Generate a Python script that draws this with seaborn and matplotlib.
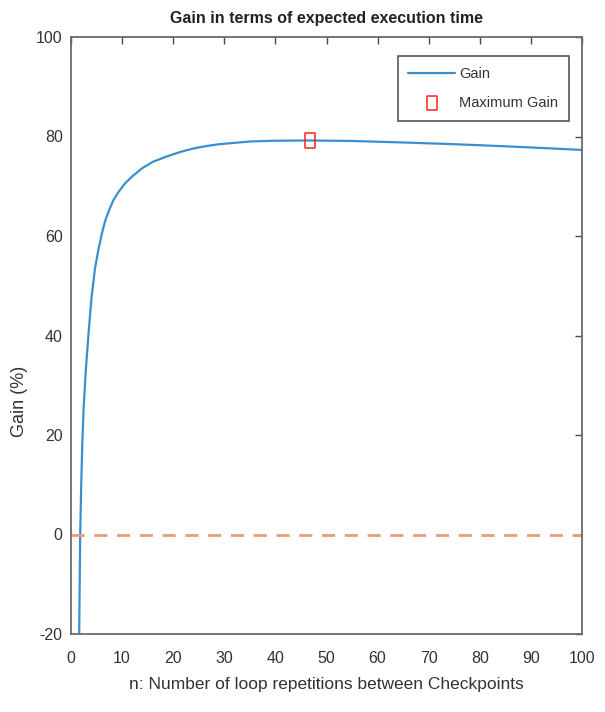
import matplotlib
matplotlib.use("Agg")
import matplotlib.pyplot as plt
import seaborn as sns
import pandas as pd
from matplotlib.path import Path
from matplotlib.collections import PathCollection

# Data
n_values = [1.6, 1.7, 1.8, 2.0, 2.2, 2.5, 2.9, 3.4, 4.0, 4.7, 5.35, 6.0, 6.67,
            7.5, 8.3, 9.4, 10.6, 12.0, 13.9, 16.0, 18.5, 21.4, 24.0, 26.6, 29.0,
            31.8, 35.0, 40.0, 46.8, 55.0, 65.0, 73.7, 80.0, 86.7, 93.0, 100.0]
gain_values = [-20.0, -10.0, 0.0, 10.0, 18.0, 26.0, 33.0, 40.0, 47.5, 53.5, 57.2,
               60.3, 63.0, 65.3, 67.2, 69.0, 70.6, 72.0, 73.6, 74.9, 75.9, 76.9,
               77.6, 78.1, 78.45, 78.7, 79.0, 79.15, 79.2, 79.1, 78.8, 78.5, 78.25,
               77.95, 77.65, 77.3]
max_n = [46.8]
max_gain = [79.2]
zero_x = [0, 100]
zero_y = [0, 0]
x_ticks = [0, 10, 20, 30, 40, 50, 60, 70, 80, 90, 100]
y_ticks = [-20, 0, 20, 40, 60, 80, 100]

title = "Gain in terms of expected execution time"
xlabel = "n: Number of loop repetitions between Checkpoints"
ylabel = "Gain (%)"

sns.set_theme(style="white")
plt.rcParams['font.family'] = ['Liberation Sans', 'DejaVu Sans']

curve = pd.DataFrame({"n": n_values, "gain": gain_values})
zero_df = pd.DataFrame({"n": zero_x, "gain": zero_y})
max_df = pd.DataFrame({"n": max_n, "gain": max_gain})

fig = plt.figure(figsize=(6.05, 7.12), dpi=100)
ax = fig.add_axes([71 / 605, 1 - 634 / 712, (582 - 71) / 605, (634 - 37) / 712])

sns.lineplot(data=curve, x="n", y="gain", ax=ax, color="#3a8fd0", linewidth=1.6,
             legend=False, errorbar=None)
gain_line = ax.lines[-1]
sns.lineplot(data=zero_df, x="n", y="gain", ax=ax, color="#ec9a78", linewidth=2.0,
             legend=False, errorbar=None)
ax.lines[-1].set_dashes((4.7, 3.5))

rect_marker = Path([(-1, -1.45), (1, -1.45), (1, 1.45), (-1, 1.45), (-1, -1.45)],
                   [Path.MOVETO, Path.LINETO, Path.LINETO, Path.LINETO, Path.CLOSEPOLY])
sns.scatterplot(data=max_df, x="n", y="gain", ax=ax, marker=rect_marker, s=110,
                facecolor="none", edgecolor="#ff2020", linewidth=1.1,
                legend=False, zorder=5)
max_marker = [c for c in ax.collections if isinstance(c, PathCollection)][-1]

ax.set_xlim(0, 100)
ax.set_ylim(-20, 100)
ax.set_xticks(x_ticks)
ax.set_yticks(y_ticks)
ax.set_xticklabels([str(v) for v in x_ticks])
ax.set_yticklabels([str(v) for v in y_ticks])

for sp in ax.spines.values():
    sp.set_visible(True)
    sp.set_color("#6a6a6a")
    sp.set_linewidth(1.3)

ax.tick_params(axis="both", direction="in", length=5, width=1.0, color="#4a4a4a",
               top=True, right=True, labelsize=11.5, labelcolor="#333333")
ax.tick_params(axis="x", pad=12)
ax.tick_params(axis="y", pad=6)

ax.set_title(title, fontsize=11.5, fontweight="bold", color="#222222", pad=10)
ax.set_xlabel(xlabel, fontsize=12.5, color="#333333", labelpad=8)
ax.set_ylabel(ylabel, fontsize=13, color="#333333")
ax.yaxis.set_label_coords(-0.085, 0.39)

leg = ax.legend([gain_line, max_marker], ["Gain", "Maximum Gain"], loc="upper right",
                bbox_to_anchor=(0.974, 0.968), fontsize=10.5, frameon=True,
                fancybox=False, edgecolor="#555555", framealpha=1,
                handlelength=3.2, handletextpad=0.25, labelspacing=1.0,
                borderpad=0.75, borderaxespad=0)
leg.get_frame().set_linewidth(1.2)
for t in leg.get_texts():
    t.set_color("#333333")

fig.savefig("out.png", dpi=100)
